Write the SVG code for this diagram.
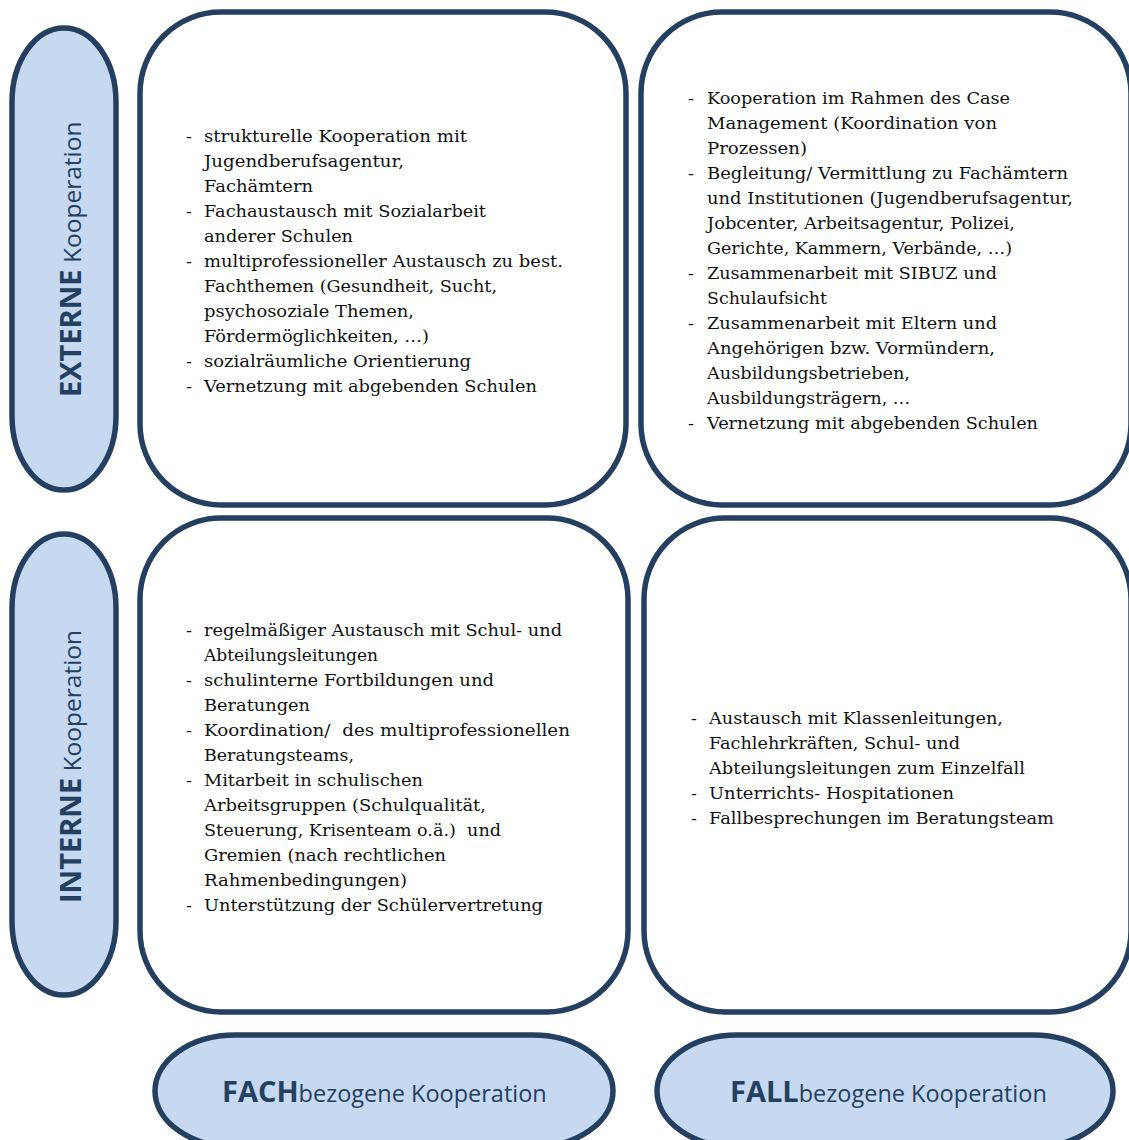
<svg xmlns="http://www.w3.org/2000/svg" width="1129" height="1140" viewBox="0 0 1129 1140">
<style>
.box{fill:#FFFFFF;stroke:#243F60;stroke-width:5.5}
.oval{fill:#C6D9F1;stroke:#243F60;stroke-width:5.5}
.t{font-family:"DejaVu Serif","Liberation Serif",serif;font-size:17.5px;fill:#111111;white-space:pre}
.lb{font-family:"Open Sans","Noto Sans",sans-serif;fill:#243F60}
.b{font-weight:bold;font-size:29px}
.n{font-weight:normal;font-size:23.5px}
.nv{font-weight:normal;font-size:24.5px}
</style>
<rect width="1129" height="1140" fill="#FFFFFF"/>
<g id="connectors"></g>

<g id="label-externe">
<rect class="oval" x="12" y="28" width="104" height="462" rx="52" ry="74"/>
<text class="lb" transform="translate(81,397) rotate(-90)"><tspan class="b">EXTERNE</tspan><tspan class="nv"> Kooperation</tspan></text>
</g>

<g id="label-interne">
<rect class="oval" x="12" y="534" width="104" height="461" rx="52" ry="74"/>
<text class="lb" transform="translate(81,903) rotate(-90)"><tspan class="b">INTERNE</tspan><tspan class="nv"> Kooperation</tspan></text>
</g>

<g id="label-fach">
<rect class="oval" x="155" y="1035" width="458" height="112" rx="80" ry="56"/>
<text class="lb" x="222" y="1102"><tspan class="b">FACH</tspan><tspan class="n">bezogene Kooperation</tspan></text>
</g>

<g id="label-fall">
<rect class="oval" x="657" y="1035" width="456" height="112" rx="80" ry="56"/>
<text class="lb" x="730" y="1102"><tspan class="b">FALL</tspan><tspan class="n">bezogene Kooperation</tspan></text>
</g>

<g id="box-extern-fach">
<rect class="box" x="140" y="12" width="486" height="493" rx="81" ry="81"/>
<text class="t" x="186" y="142">-</text>
<text class="t" x="204" y="142" textLength="263" lengthAdjust="spacingAndGlyphs">strukturelle Kooperation mit</text>
<text class="t" x="204" y="167" textLength="200" lengthAdjust="spacingAndGlyphs">Jugendberufsagentur,</text>
<text class="t" x="204" y="192" textLength="109" lengthAdjust="spacingAndGlyphs">Fachämtern</text>
<text class="t" x="186" y="217">-</text>
<text class="t" x="204" y="217" textLength="282" lengthAdjust="spacingAndGlyphs">Fachaustausch mit Sozialarbeit</text>
<text class="t" x="204" y="242" textLength="149" lengthAdjust="spacingAndGlyphs">anderer Schulen</text>
<text class="t" x="186" y="267">-</text>
<text class="t" x="204" y="267" textLength="359" lengthAdjust="spacingAndGlyphs">multiprofessioneller Austausch zu best.</text>
<text class="t" x="204" y="292" textLength="293" lengthAdjust="spacingAndGlyphs">Fachthemen (Gesundheit, Sucht,</text>
<text class="t" x="204" y="317" textLength="210" lengthAdjust="spacingAndGlyphs">psychosoziale Themen,</text>
<text class="t" x="204" y="342" textLength="225" lengthAdjust="spacingAndGlyphs">Fördermöglichkeiten, …)</text>
<text class="t" x="186" y="367">-</text>
<text class="t" x="204" y="367" textLength="267" lengthAdjust="spacingAndGlyphs">sozialräumliche Orientierung</text>
<text class="t" x="186" y="392">-</text>
<text class="t" x="204" y="392" textLength="333" lengthAdjust="spacingAndGlyphs">Vernetzung mit abgebenden Schulen</text>
</g>

<g id="box-extern-fall">
<rect class="box" x="641" y="12" width="490" height="493" rx="81" ry="81"/>
<text class="t" x="688" y="104">-</text>
<text class="t" x="707" y="104" textLength="303" lengthAdjust="spacingAndGlyphs">Kooperation im Rahmen des Case</text>
<text class="t" x="707" y="129" textLength="290" lengthAdjust="spacingAndGlyphs">Management (Koordination von</text>
<text class="t" x="707" y="154" textLength="100" lengthAdjust="spacingAndGlyphs">Prozessen)</text>
<text class="t" x="688" y="179">-</text>
<text class="t" x="707" y="179" textLength="361" lengthAdjust="spacingAndGlyphs">Begleitung/ Vermittlung zu Fachämtern</text>
<text class="t" x="707" y="204" textLength="366" lengthAdjust="spacingAndGlyphs">und Institutionen (Jugendberufsagentur,</text>
<text class="t" x="707" y="229" textLength="308" lengthAdjust="spacingAndGlyphs">Jobcenter, Arbeitsagentur, Polizei,</text>
<text class="t" x="707" y="254" textLength="305" lengthAdjust="spacingAndGlyphs">Gerichte, Kammern, Verbände, …)</text>
<text class="t" x="688" y="279">-</text>
<text class="t" x="707" y="279" textLength="290" lengthAdjust="spacingAndGlyphs">Zusammenarbeit mit SIBUZ und</text>
<text class="t" x="707" y="304" textLength="120" lengthAdjust="spacingAndGlyphs">Schulaufsicht</text>
<text class="t" x="688" y="329">-</text>
<text class="t" x="707" y="329" textLength="290" lengthAdjust="spacingAndGlyphs">Zusammenarbeit mit Eltern und</text>
<text class="t" x="707" y="354" textLength="288" lengthAdjust="spacingAndGlyphs">Angehörigen bzw. Vormündern,</text>
<text class="t" x="707" y="379" textLength="203" lengthAdjust="spacingAndGlyphs">Ausbildungsbetrieben,</text>
<text class="t" x="707" y="404" textLength="203" lengthAdjust="spacingAndGlyphs">Ausbildungsträgern, …</text>
<text class="t" x="688" y="429">-</text>
<text class="t" x="707" y="429" textLength="331" lengthAdjust="spacingAndGlyphs">Vernetzung mit abgebenden Schulen</text>
</g>

<g id="box-intern-fach">
<rect class="box" x="140" y="518" width="488" height="494" rx="81" ry="81"/>
<text class="t" x="186" y="636">-</text>
<text class="t" x="204" y="636" textLength="358" lengthAdjust="spacingAndGlyphs">regelmäßiger Austausch mit Schul- und</text>
<text class="t" x="204" y="661" textLength="174" lengthAdjust="spacingAndGlyphs">Abteilungsleitungen</text>
<text class="t" x="186" y="686">-</text>
<text class="t" x="204" y="686" textLength="290" lengthAdjust="spacingAndGlyphs">schulinterne Fortbildungen und</text>
<text class="t" x="204" y="711" textLength="106" lengthAdjust="spacingAndGlyphs">Beratungen</text>
<text class="t" x="186" y="736">-</text>
<text class="t" x="204" y="736" textLength="366" lengthAdjust="spacingAndGlyphs">Koordination/  des multiprofessionellen</text>
<text class="t" x="204" y="761" textLength="150" lengthAdjust="spacingAndGlyphs">Beratungsteams,</text>
<text class="t" x="186" y="786">-</text>
<text class="t" x="204" y="786" textLength="219" lengthAdjust="spacingAndGlyphs">Mitarbeit in schulischen</text>
<text class="t" x="204" y="811" textLength="282" lengthAdjust="spacingAndGlyphs">Arbeitsgruppen (Schulqualität,</text>
<text class="t" x="204" y="836" textLength="297" lengthAdjust="spacingAndGlyphs">Steuerung, Krisenteam o.ä.)  und</text>
<text class="t" x="204" y="861" textLength="242" lengthAdjust="spacingAndGlyphs">Gremien (nach rechtlichen</text>
<text class="t" x="204" y="886" textLength="203" lengthAdjust="spacingAndGlyphs">Rahmenbedingungen)</text>
<text class="t" x="186" y="911">-</text>
<text class="t" x="204" y="911" textLength="339" lengthAdjust="spacingAndGlyphs">Unterstützung der Schülervertretung</text>
</g>

<g id="box-intern-fall">
<rect class="box" x="644" y="518" width="487" height="494" rx="81" ry="81"/>
<text class="t" x="691" y="724">-</text>
<text class="t" x="709" y="724" textLength="294" lengthAdjust="spacingAndGlyphs">Austausch mit Klassenleitungen,</text>
<text class="t" x="709" y="749" textLength="251" lengthAdjust="spacingAndGlyphs">Fachlehrkräften, Schul- und</text>
<text class="t" x="709" y="774" textLength="316" lengthAdjust="spacingAndGlyphs">Abteilungsleitungen zum Einzelfall</text>
<text class="t" x="691" y="799">-</text>
<text class="t" x="709" y="799" textLength="245" lengthAdjust="spacingAndGlyphs">Unterrichts- Hospitationen</text>
<text class="t" x="691" y="824">-</text>
<text class="t" x="709" y="824" textLength="345" lengthAdjust="spacingAndGlyphs">Fallbesprechungen im Beratungsteam</text>
</g>
</svg>
